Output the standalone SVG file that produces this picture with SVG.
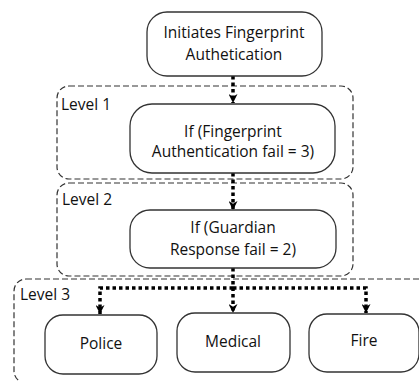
<svg xmlns="http://www.w3.org/2000/svg" width="419" height="381" viewBox="0 0 419 381">
<style>
.lvl{fill:none;stroke:#333;stroke-width:1.2;stroke-dasharray:6 3}
.node{fill:#fff;stroke:#333;stroke-width:1.3}
text{font-family:"Open Sans","Liberation Sans",sans-serif;font-size:15.5px;fill:#111}
.c{text-anchor:middle}
.dot{fill:none;stroke:#000;stroke-width:3.5;stroke-dasharray:3.5 3}
</style>
<defs>
<marker id="ah" viewBox="0 0 10 10" refX="10" refY="5" markerWidth="9" markerHeight="9" markerUnits="userSpaceOnUse" orient="auto">
<path d="M0,0 L10,5 L0,10 L3,5 Z" fill="#000"/>
</marker>
</defs>
<rect x="0" y="0" width="419" height="381" fill="#fff"/>
<g id="levels">
<g id="level1"><rect class="lvl" x="57" y="86" width="296" height="93" rx="12"/><text x="61" y="110">Level 1</text></g>
<g id="level2"><rect class="lvl" x="57" y="183" width="296" height="93" rx="12"/><text x="62" y="205">Level 2</text></g>
<g id="level3"><rect class="lvl" x="14" y="279" width="420" height="104" rx="12"/><text x="20" y="300">Level 3</text></g>
</g>
<g id="connectors">
<path class="dot" d="M233,76 V103" marker-end="url(#ah)"/>
<path class="dot" d="M233,173 V210" marker-end="url(#ah)"/>
<path class="dot" d="M233,268 V313" marker-end="url(#ah)"/>
<path class="dot" d="M233,288 H100 V314" marker-end="url(#ah)"/>
<path class="dot" d="M233,288 H366 V313" marker-end="url(#ah)"/>
</g>
<g id="start"><rect class="node" x="147" y="12" width="175" height="64" rx="20"/><text class="c" x="234" y="38">Initiates Fingerprint</text><text class="c" x="234" y="60">Authetication</text></g>
<g id="check1"><rect class="node" x="130" y="104" width="205" height="69" rx="22"/><text class="c" x="233" y="137">If (Fingerprint</text><text class="c" x="233" y="157">Authentication fail = 3)</text></g>
<g id="check2"><rect class="node" x="130" y="210" width="206" height="58" rx="20"/><text class="c" x="233" y="233">If (Guardian</text><text class="c" x="233" y="255">Response fail = 2)</text></g>
<g id="police"><rect class="node" x="45" y="315" width="112" height="59" rx="18"/><text class="c" x="101" y="349">Police</text></g>
<g id="medical"><rect class="node" x="177" y="313" width="113" height="59" rx="18"/><text class="c" x="233" y="347">Medical</text></g>
<g id="fire"><rect class="node" x="309" y="314" width="110" height="58" rx="18"/><text class="c" x="364" y="346">Fire</text></g>
</svg>
